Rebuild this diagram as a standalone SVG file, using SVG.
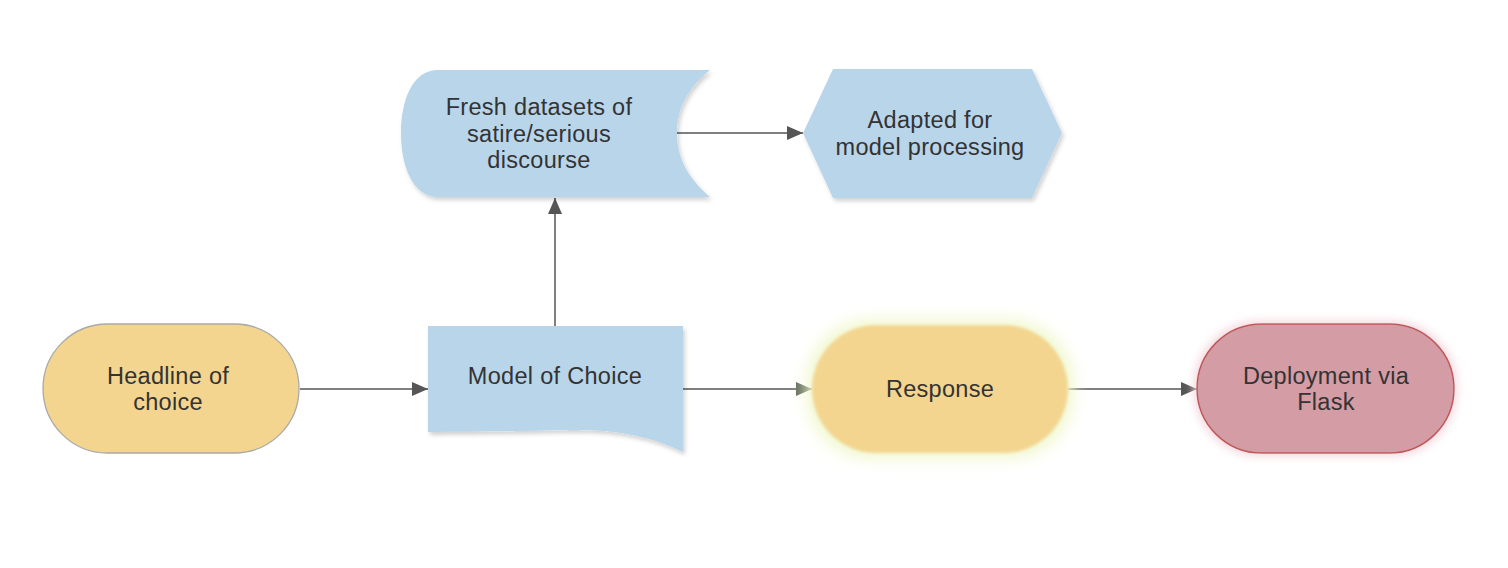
<svg xmlns="http://www.w3.org/2000/svg" width="1508" height="568" viewBox="0 0 1508 568">
<defs>
<style>
.t{font-family:"Liberation Sans",Arial,Helvetica,sans-serif;font-size:23.5px;letter-spacing:0.3px;fill:#333;text-anchor:middle}
.blue{fill:#b9d5ea}
.conn{stroke:#555;stroke-width:1.5;fill:none}
</style>
<marker id="ah" viewBox="0 0 16 14" refX="16" refY="7" markerWidth="16" markerHeight="14" markerUnits="userSpaceOnUse" orient="auto">
<path d="M0,0 L16,7 L0,14 Z" fill="#555"/>
</marker>
<marker id="ahg" viewBox="0 0 16 14" refX="16" refY="7" markerWidth="16" markerHeight="14" markerUnits="userSpaceOnUse" orient="auto">
<path d="M0,0 L16,7 L0,14 Z" fill="#646d5c"/>
</marker>
<filter id="sh" x="-10%" y="-10%" width="130%" height="140%">
<feGaussianBlur in="SourceAlpha" stdDeviation="2"/>
<feOffset dx="2" dy="3" result="b"/>
<feFlood flood-color="#000" flood-opacity="0.18"/>
<feComposite in2="b" operator="in"/>
<feMerge><feMergeNode/><feMergeNode in="SourceGraphic"/></feMerge>
</filter>
<filter id="glowY" x="-20%" y="-30%" width="140%" height="160%">
<feMorphology in="SourceAlpha" operator="dilate" radius="5" result="d"/>
<feGaussianBlur in="d" stdDeviation="8" result="b"/>
<feFlood flood-color="#f0f8cc" flood-opacity="1"/>
<feComposite in2="b" operator="in" result="g"/>
<feGaussianBlur in="SourceGraphic" stdDeviation="1.5" result="s"/>
<feMerge><feMergeNode in="g"/><feMergeNode in="s"/></feMerge>
</filter>
<filter id="glowR" x="-20%" y="-30%" width="140%" height="160%">
<feMorphology in="SourceAlpha" operator="dilate" radius="2" result="d"/>
<feGaussianBlur in="d" stdDeviation="5" result="b"/>
<feFlood flood-color="#f3d6dc" flood-opacity="1"/>
<feComposite in2="b" operator="in" result="g"/>
<feMerge><feMergeNode in="g"/><feMergeNode in="SourceGraphic"/></feMerge>
</filter>
</defs>
<rect width="1508" height="568" fill="#fff"/>

<g id="connectors">
<line class="conn" x1="300" y1="389" x2="428" y2="389" marker-end="url(#ah)"/>
<line class="conn" x1="683" y1="389" x2="812" y2="389" marker-end="url(#ahg)"/>
<line class="conn" x1="1068" y1="389" x2="1197" y2="389" marker-end="url(#ah)"/>
<line class="conn" x1="555" y1="326" x2="555" y2="198" marker-end="url(#ah)"/>
<line class="conn" x1="677" y1="133" x2="803" y2="133" marker-end="url(#ah)"/>
</g>

<g id="node-headline">
<rect x="43" y="324" width="256" height="129" rx="64.5" fill="#f4d58f" stroke="#a9a9a9" stroke-width="1.3"/>
<text class="t" x="168" y="384">Headline of</text>
<text class="t" x="168" y="410">choice</text>
</g>

<g id="node-model">
<path class="blue" filter="url(#sh)" d="M428,326 H683 V452 C650,436 615,429 570,430 C520,431 470,432 428,432 Z"/>
<text class="t" x="555" y="384">Model of Choice</text>
</g>

<g id="node-fresh">
<path class="blue" filter="url(#sh)" d="M438,70 H710 C688,88 677,108 677,133 C677,158 688,178 710,197 H438 C412,197 401,165 401,133 C401,101 412,70 438,70 Z"/>
<text class="t" x="539" y="115">Fresh datasets of</text>
<text class="t" x="539" y="142">satire/serious</text>
<text class="t" x="539" y="168">discourse</text>
</g>

<g id="node-adapted">
<path class="blue" filter="url(#sh)" d="M803,133 L833,69 H1032 L1062,133 L1032,198 H833 Z"/>
<text class="t" x="930" y="128">Adapted for</text>
<text class="t" x="930" y="155">model processing</text>
</g>

<g id="node-response">
<rect x="812" y="325" width="256" height="128" rx="64" fill="#f3d590" filter="url(#glowY)"/>
<text class="t" x="940" y="397">Response</text>
</g>

<g id="node-deploy">
<rect x="1197" y="324" width="257" height="129" rx="64.5" fill="#d49ca5" stroke="#c0575a" stroke-width="1.5" filter="url(#glowR)"/>
<text class="t" x="1326" y="384">Deployment via</text>
<text class="t" x="1326" y="410">Flask</text>
</g>
</svg>
